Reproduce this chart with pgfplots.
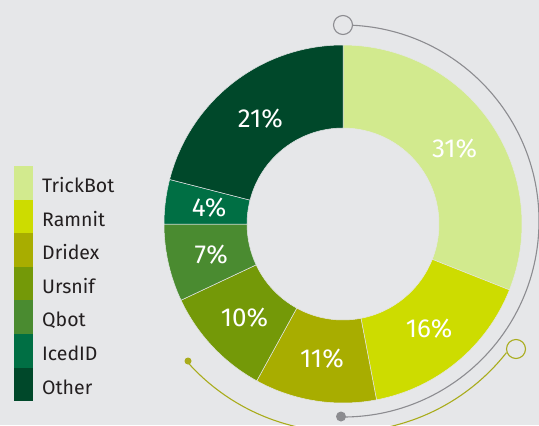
\documentclass[border=0pt]{standalone}
\usepackage{fontspec}
\setmainfont{Fira Sans}
\usepackage{pgfplots}
\usepackage{pgfplotstable}
\pgfplotsset{compat=1.18}
\definecolor{bg}{HTML}{E6E7E9}
\definecolor{cTrickBot}{HTML}{D2EA8E}
\definecolor{cRamnit}{HTML}{CDDC00}
\definecolor{cDridex}{HTML}{A8AD00}
\definecolor{cUrsnif}{HTML}{749908}
\definecolor{cQbot}{HTML}{4A8B30}
\definecolor{cIcedID}{HTML}{006F44}
\definecolor{cOther}{HTML}{00482A}
\definecolor{grayline}{HTML}{8C8C90}
\definecolor{oliveline}{HTML}{A9AC1C}
\definecolor{legtext}{HTML}{231F20}

\pgfplotstableread{
name value col
TrickBot 31 cTrickBot
Ramnit 16 cRamnit
Dridex 11 cDridex
Ursnif 10 cUrsnif
Qbot 7 cQbot
IcedID 4 cIcedID
Other 21 cOther
}\shares

\begin{document}
\begin{tikzpicture}
\begin{axis}[x=1bp,y=1bp,xmin=0,xmax=539,ymin=0,ymax=425,
  hide axis,clip=true,scale only axis]
\fill[bg] (axis cs:0,0) rectangle (axis cs:539,425);
% decorative arcs
\draw[grayline,line width=1.1bp] (axis cs:{343+196*cos(87.2)},{204+196*sin(87.2)}) arc[start angle=87.2,end angle=-90,radius=196bp];
\draw[grayline,line width=1.1bp,fill=bg] (axis cs:343,400) circle[radius=9.5bp];
\fill[grayline] (axis cs:341,8.5) circle[radius=5bp];
\draw[oliveline,line width=1.1bp] (axis cs:{343+208*cos(-138.5)},{201+208*sin(-138.5)}) arc[start angle=-138.5,end angle=-38.2,radius=208bp];
\fill[oliveline] (axis cs:188,64) circle[radius=3.5bp];
\draw[oliveline,line width=1.1bp,fill=bg] (axis cs:516,76) circle[radius=9.5bp];
% donut
\def\cum{0}
\pgfplotsforeachungrouped \i in {0,...,6}{%
  \pgfplotstablegetelem{\i}{value}\of\shares \let\v\pgfplotsretval
  \pgfplotstablegetelem{\i}{col}\of\shares \let\c\pgfplotsretval
  \pgfplotstablegetelem{\i}{name}\of\shares \let\n\pgfplotsretval
  \pgfmathsetmacro\a{90-\cum*3.6}%
  \pgfmathsetmacro\b{90-(\cum+\v)*3.6}%
  \pgfmathsetmacro\m{(\a+\b)/2}%
  \pgfmathsetmacro\cum{\cum+\v}%
  \pgfmathsetmacro\ytop{425-166-33.6*\i}%
  \pgfmathsetmacro\ybot{425-166-33.6*(\i+1)}%
  \pgfmathsetmacro\ymid{425-168.5-33.6*(\i+0.5)}%
  \edef\temp{%
    \noexpand\fill[\c,draw=bg,line width=0.5bp] (axis cs:{343+179*cos(\a)},{201+179*sin(\a)}) arc[start angle=\a,end angle=\b,radius=179bp]
      -- (axis cs:{343+96*cos(\b)},{201+96*sin(\b)}) arc[start angle=\b,end angle=\a,radius=96bp] -- cycle;
    \noexpand\node[white,font=\noexpand\fontsize{26bp}{30bp}\noexpand\selectfont] at (axis cs:{343+135*cos(\m)},{200+135*sin(\m)}) {\v\noexpand\%};
    \noexpand\fill[\c] (axis cs:14,\ybot) rectangle (axis cs:33,\ytop);
    \noexpand\node[legtext,anchor=west,inner sep=0pt,font=\noexpand\fontsize{19.5bp}{23bp}\noexpand\selectfont] at (axis cs:42,\ymid) {\n};
  }%
  \temp
}
\end{axis}
\end{tikzpicture}
\end{document}
